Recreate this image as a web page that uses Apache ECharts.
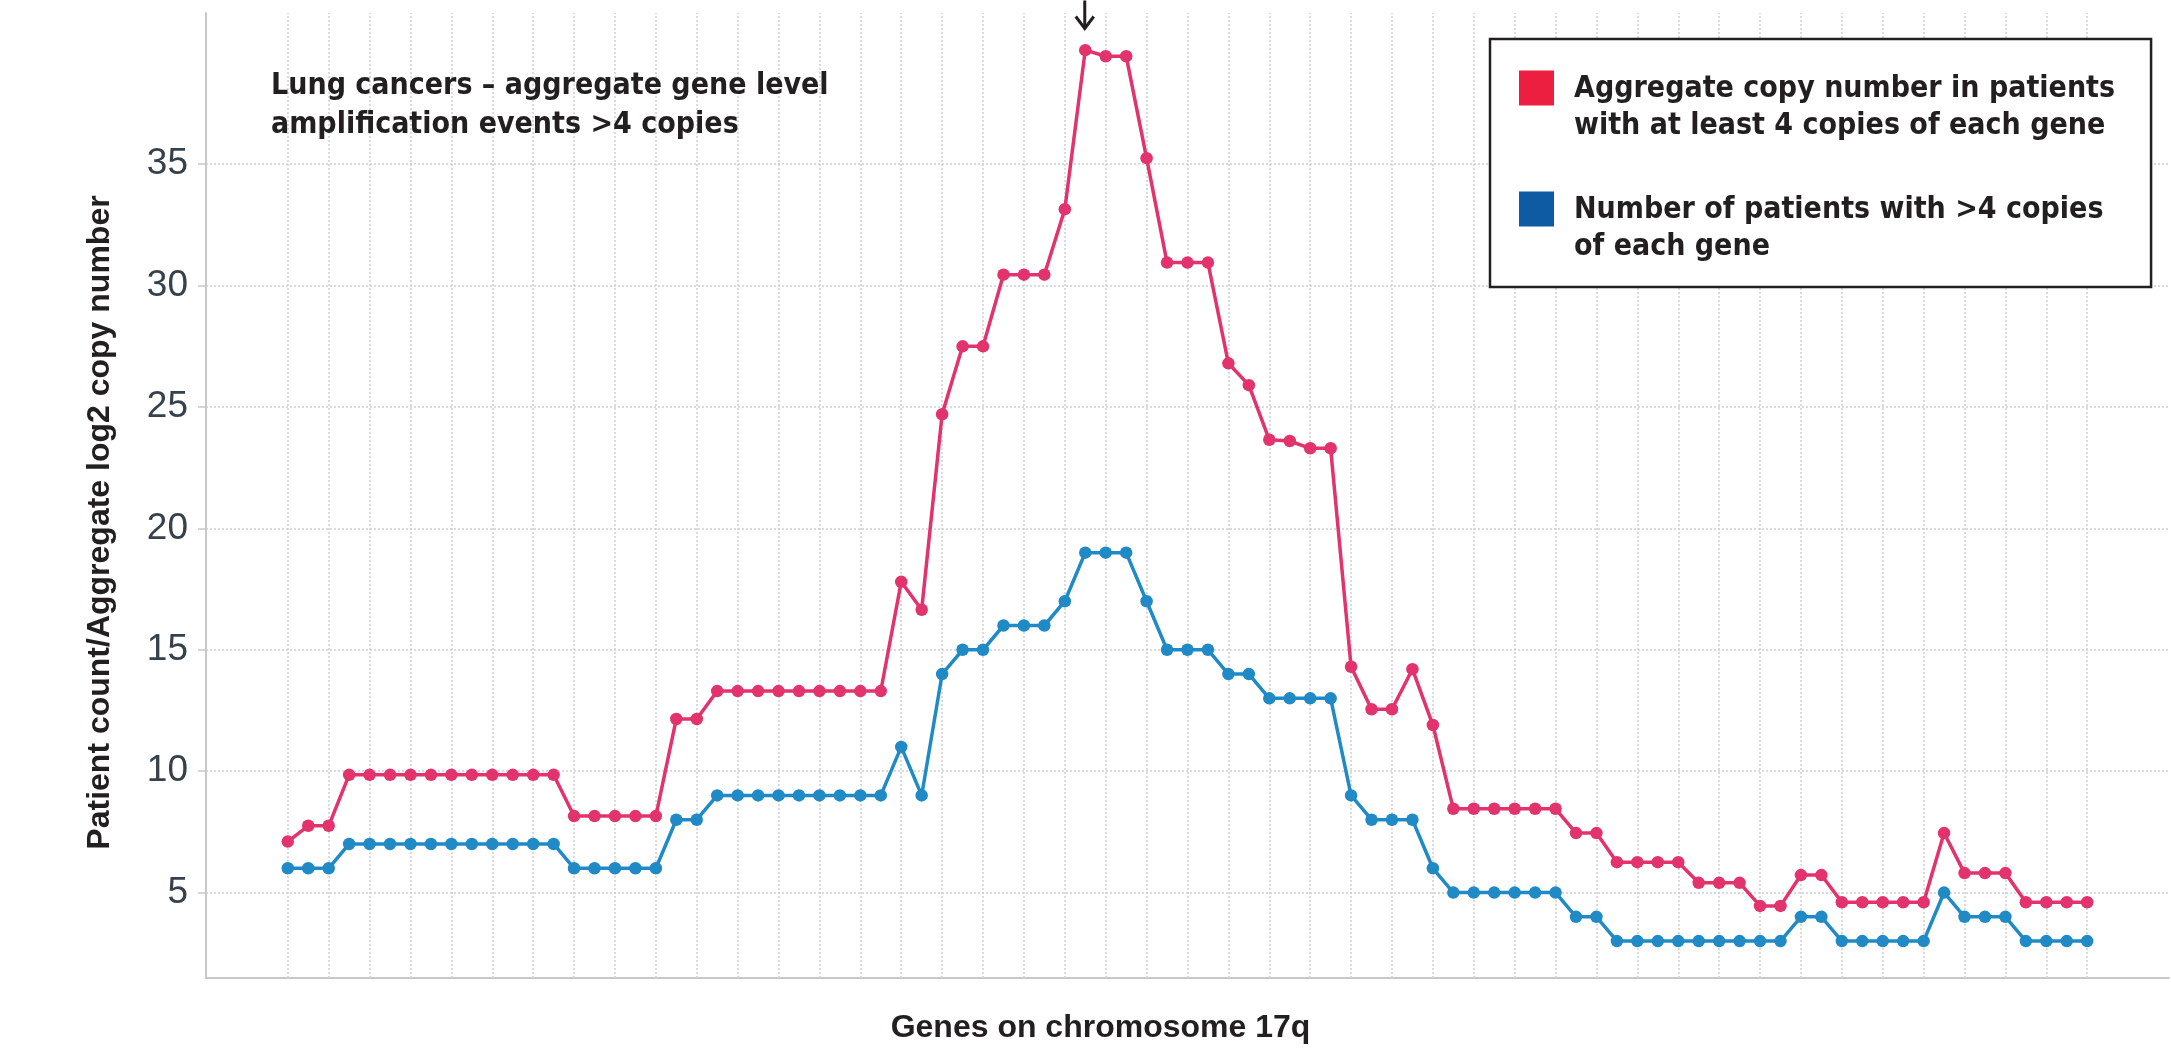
<!DOCTYPE html>
<html><head><meta charset="utf-8">
<script src="https://cdn.jsdelivr.net/npm/echarts@6/dist/echarts.min.js"></script>
<style>html,body{margin:0;padding:0;background:#fff;overflow:hidden}#chart{width:2171px;height:1059px}</style>
</head><body><div id="chart"></div>
<script>
// ---- data ----
const genes = Array.from({length: 89}, (_, i) => 'Gene ' + (i + 1));
const aggregateCopyNumber = [7.1, 7.75, 7.75,
  9.85, 9.85, 9.85, 9.85, 9.85, 9.85, 9.85, 9.85, 9.85, 9.85, 9.85,
  8.15, 8.15, 8.15, 8.15, 8.15,
  12.15, 12.15,
  13.3, 13.3, 13.3, 13.3, 13.3, 13.3, 13.3, 13.3, 13.3,
  17.8, 16.65, 24.7, 27.5, 27.5,
  30.45, 30.45, 30.45, 33.15, 39.7, 39.45, 39.45, 35.25,
  30.95, 30.95, 30.95, 26.8, 25.9, 23.65, 23.6, 23.3, 23.3,
  14.3, 12.55, 12.55, 14.2, 11.9,
  8.45, 8.45, 8.45, 8.45, 8.45, 8.45,
  7.45, 7.45,
  6.25, 6.25, 6.25, 6.25,
  5.4, 5.4, 5.4,
  4.45, 4.45,
  5.72, 5.72,
  4.6, 4.6, 4.6, 4.6, 4.6,
  7.45, 5.8, 5.8, 5.8,
  4.6, 4.6, 4.6, 4.6];
const patientCount = [6, 6, 6,
  7, 7, 7, 7, 7, 7, 7, 7, 7, 7, 7,
  6, 6, 6, 6, 6,
  8, 8,
  9, 9, 9, 9, 9, 9, 9, 9, 9,
  11, 9, 14, 15, 15,
  16, 16, 16, 17, 19, 19, 19, 17,
  15, 15, 15, 14, 14, 13, 13, 13, 13,
  9, 8, 8, 8, 6,
  5, 5, 5, 5, 5, 5,
  4, 4,
  3, 3, 3, 3, 3, 3, 3, 3, 3,
  4, 4,
  3, 3, 3, 3, 3,
  5, 4, 4, 4,
  3, 3, 3, 3];
const yTicks = [5, 10, 15, 20, 25, 30, 35];
const seriesNames = [
  'Aggregate copy number in patients\nwith at least 4 copies of each gene',
  'Number of patients with >4 copies\nof each gene'
];

// ---- build ----
const PAD = 4;
const padL = Array.from({length: PAD}, (_, i) => 'padL' + i);
const padR = Array.from({length: PAD}, (_, i) => 'padR' + i);
const axisCats = padL.concat(genes, padR);
// vertical dotted guides at every second gene
const guideGenes = genes.filter((g, i) => i % 2 === 0);

const condensed = '"DejaVu Sans Condensed", "DejaVu Sans", sans-serif';
const sans = '"Liberation Sans", Arial, sans-serif';
const iconPath = 'path://M0,0H35V35H0Z M50,74H50.01';
const gridLineStyle = {color: '#cfcfcf', width: 1.5, type: [2, 2]};

const chart = echarts.init(document.getElementById('chart'), null, {renderer: 'canvas'});
const option = {
  animation: false,
  backgroundColor: '#ffffff',
  title: {
    text: 'Lung cancers – aggregate gene level\namplification events >4 copies',
    left: 271, top: 66, padding: 0,
    textStyle: {fontFamily: condensed, fontWeight: 'bold', fontSize: 30, lineHeight: 39.5, color: '#231f20'}
  },
  legend: {
    left: 1490, top: 39, orient: 'vertical',
    padding: [31, 36, 21, 29],
    itemGap: 46, itemWidth: 50, itemHeight: 74,
    borderColor: '#231f20', borderWidth: 2.5, borderRadius: 0,
    backgroundColor: '#ffffff',
    selectedMode: false,
    textStyle: {fontFamily: condensed, fontWeight: 'bold', fontSize: 30, lineHeight: 37.5, color: '#231f20'},
    data: [
      {name: seriesNames[0], icon: iconPath, itemStyle: {color: '#ec1f41', borderWidth: 0}},
      {name: seriesNames[1], icon: iconPath, itemStyle: {color: '#0e5aa3', borderWidth: 0}}
    ]
  },
  grid: {left: 206, right: 2, top: 13, bottom: 81},
  xAxis: {
    type: 'category', data: axisCats, boundaryGap: false,
    name: 'Genes on chromosome 17q', nameLocation: 'middle', nameGap: 34,
    nameTextStyle: {fontFamily: sans, fontWeight: 'bold', fontSize: 32, color: '#231f20', padding: [0, 174, 0, 0]},
    axisLine: {lineStyle: {color: '#c8c8c8', width: 2}},
    axisTick: {show: false},
    axisLabel: {show: false},
    splitLine: {show: false}
  },
  yAxis: {
    type: 'value', min: 1.48, max: 41.23,
    name: 'Patient count/Aggregate log2 copy number', nameLocation: 'middle', nameGap: 90,
    nameTextStyle: {fontFamily: sans, fontWeight: 'bold', fontSize: 32, color: '#231f20', padding: [0, 54, 0, 0]},
    axisLine: {show: true, lineStyle: {color: '#c8c8c8', width: 2}},
    axisTick: {show: true, length: 8, customValues: yTicks, lineStyle: {color: '#c8c8c8', width: 1.5}},
    axisLabel: {customValues: yTicks, margin: 18, fontFamily: sans, fontSize: 37, color: '#36414c'},
    splitLine: {show: true, lineStyle: gridLineStyle}
  },
  series: [
    {
      name: 'guides', type: 'line', data: [], z: 1, silent: true,
      markLine: {
        z: 1, silent: true, symbol: ['none', 'none'], label: {show: false},
        lineStyle: gridLineStyle, emphasis: {disabled: true},
        data: guideGenes.map(g => ({xAxis: g}))
      }
    },
    {
      name: seriesNames[0], type: 'line', z: 3,
      data: genes.map((g, i) => [g, aggregateCopyNumber[i]]),
      symbol: 'circle', symbolSize: 12.5, showAllSymbol: true,
      lineStyle: {color: '#e3336c', width: 3.5},
      itemStyle: {color: '#e3336c'}
    },
    {
      name: seriesNames[1], type: 'line', z: 3,
      data: genes.map((g, i) => [g, patientCount[i]]),
      symbol: 'circle', symbolSize: 12.5, showAllSymbol: true,
      lineStyle: {color: '#1f8ac5', width: 3.5},
      itemStyle: {color: '#1f8ac5'}
    }
  ]
};
chart.setOption(option);

// annotation arrow above the peak gene
const peakIdx = aggregateCopyNumber.indexOf(Math.max.apply(null, aggregateCopyNumber));
const ax = chart.convertToPixel({xAxisIndex: 0}, genes[peakIdx]);
chart.setOption({
  graphic: [{
    type: 'group', left: ax - 12, top: -2,
    children: [
      {type: 'line', shape: {x1: 10, y1: 0, x2: 10, y2: 27}, style: {stroke: '#231f20', lineWidth: 3}},
      {type: 'polyline', shape: {points: [[1, 16], [10, 28], [19, 16]]}, style: {stroke: '#231f20', lineWidth: 3, fill: null}}
    ]
  }]
});
</script></body></html>
